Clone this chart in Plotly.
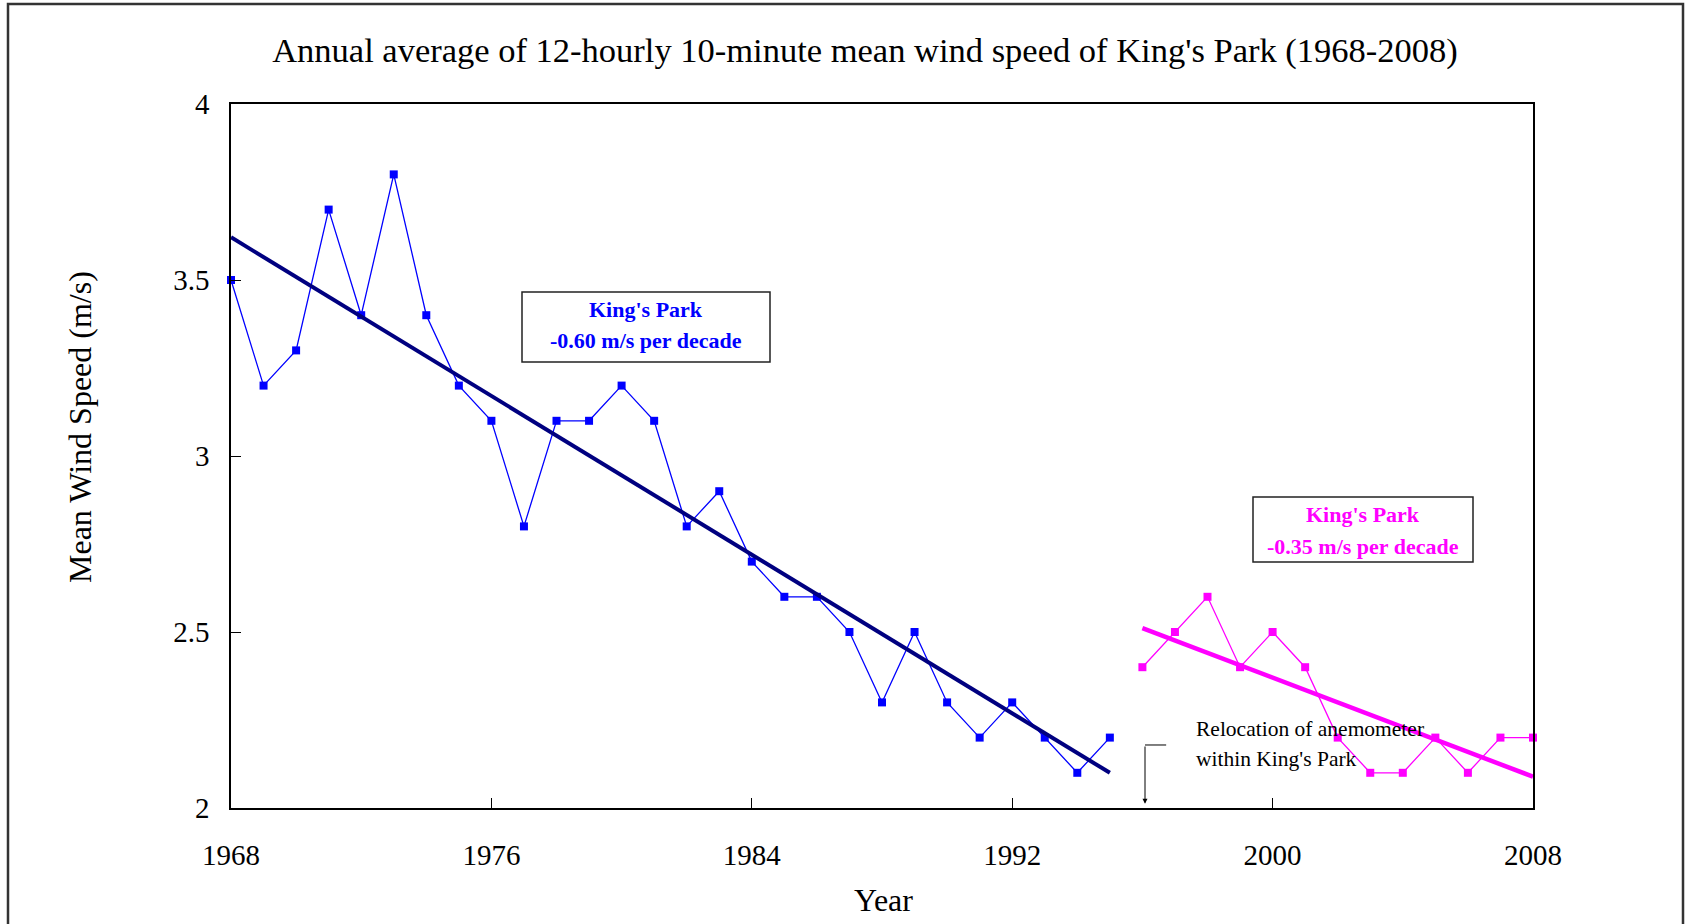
import numpy as np
import plotly.graph_objects as go

# ---- data ----
years_before = list(range(1968, 1996))
speed_before = [3.5, 3.2, 3.3, 3.7, 3.4, 3.8, 3.4, 3.2, 3.1, 2.8, 3.1, 3.1, 3.2, 3.1,
                2.8, 2.9, 2.7, 2.6, 2.6, 2.5, 2.3, 2.5, 2.3, 2.2, 2.3, 2.2, 2.1, 2.2]
years_after = list(range(1996, 2009))
speed_after = [2.4, 2.5, 2.6, 2.4, 2.5, 2.4, 2.2, 2.1, 2.1, 2.2, 2.1, 2.2, 2.2]
x_ticks = [1968, 1976, 1984, 1992, 2000, 2008]
y_ticks = [2, 2.5, 3, 3.5, 4]
x_tick_labels = ["1968", "1976", "1984", "1992", "2000", "2008"]
y_tick_labels = ["2", "2.5", "3", "3.5", "4"]

# trend lines (least squares)
pb = np.polyfit(years_before, speed_before, 1)
pa = np.polyfit(years_after, speed_after, 1)
trend_before = list(np.polyval(pb, years_before))
trend_after = list(np.polyval(pa, years_after))

# ---- layout geometry (page pixels) ----
W, H = 1685, 924
L, R, T, B = 231, 1533, 104, 808
def px(x):
    return (x - L) / (R - L)
def py(y):
    return (B - y) / (B - T)

FONT = "Liberation Serif"
BLUE = "#0000FF"
NAVY = "#000080"
MAG = "#FF00FF"

fig = go.Figure()
fig.add_trace(go.Scatter(x=years_before, y=speed_before, mode="lines+markers",
                         line=dict(color=BLUE, width=1.3),
                         marker=dict(symbol="square", size=8, color=BLUE),
                         showlegend=False, cliponaxis=False))
fig.add_trace(go.Scatter(x=years_before, y=trend_before, mode="lines",
                         line=dict(color=NAVY, width=4), showlegend=False))
fig.add_trace(go.Scatter(x=years_after, y=speed_after, mode="lines+markers",
                         line=dict(color=MAG, width=1.3),
                         marker=dict(symbol="square", size=8, color=MAG),
                         showlegend=False, cliponaxis=False))
fig.add_trace(go.Scatter(x=years_after, y=trend_after, mode="lines",
                         line=dict(color=MAG, width=4.5), showlegend=False))

shapes = [
    # outer frame
    dict(type="rect", xref="paper", yref="paper",
         x0=px(8), x1=px(1683), y0=py(4), y1=py(940),
         line=dict(color="#333333", width=2.5), layer="below"),
    # annotation boxes
    dict(type="rect", xref="paper", yref="paper",
         x0=px(522), x1=px(770), y0=py(292), y1=py(362),
         line=dict(color="#222222", width=1.5), fillcolor="white", layer="above"),
    dict(type="rect", xref="paper", yref="paper",
         x0=px(1253), x1=px(1473), y0=py(497), y1=py(562),
         line=dict(color="#222222", width=1.5), fillcolor="white", layer="above"),
    # relocation elbow (horizontal part)
    dict(type="line", xref="x", yref="y",
         x0=1996.08, x1=1996.73, y0=2.179, y1=2.179,
         line=dict(color="black", width=1)),
]

def note(x, y, text, size, color, xanchor="center", angle=0):
    return dict(xref="paper", yref="paper", x=px(x), y=py(y), text=text,
                xanchor=xanchor, yanchor="middle", showarrow=False, textangle=angle,
                font=dict(family=FONT, size=size, color=color))

annotations = [
    note(646, 309, "<b>King's Park</b>", 22, BLUE),
    note(646, 340, "<b>-0.60 m/s per decade</b>", 22, BLUE),
    note(1363, 514, "<b>King's Park</b>", 22, MAG),
    note(1363, 546, "<b>-0.35 m/s per decade</b>", 22, MAG),
    note(1194, 729, "Relocation of anemometer", 21.5, "black", xanchor="left"),
    note(1194, 759, "within King's Park", 21.5, "black", xanchor="left"),
    note(883, 900, "Year", 32, "black"),
    note(80, 427, "Mean Wind Speed (m/s)", 32, "black", angle=-90),
    # arrow (vertical part of the elbow)
    dict(xref="x", yref="y", x=1996.08, y=2.012, ax=1996.08, ay=2.179,
         axref="x", ayref="y", text="", showarrow=True,
         arrowhead=2, arrowsize=1, arrowwidth=1, arrowcolor="black"),
]

fig.update_layout(
    width=W, height=H,
    margin=dict(l=L, r=W - R, t=T, b=H - B),
    paper_bgcolor="white", plot_bgcolor="white",
    font=dict(family=FONT, color="black"),
    title=dict(text="Annual average of 12-hourly 10-minute mean wind speed of King's Park (1968-2008)",
               xref="container", x=865 / W, xanchor="center",
               yref="container", y=1 - 50 / H, yanchor="middle",
               font=dict(family=FONT, size=34.5, color="black")),
    shapes=shapes,
    annotations=annotations,
)
fig.update_xaxes(range=[1968, 2008], tickvals=x_ticks, ticktext=x_tick_labels,
                 showline=True, linecolor="black", linewidth=1.5, mirror=True,
                 ticks="inside", ticklen=10, tickcolor="black", showgrid=False, zeroline=False,
                 tickfont=dict(family=FONT, size=29), ticklabelstandoff=20)
fig.update_yaxes(range=[2, 4], tickvals=y_ticks, ticktext=y_tick_labels,
                 showline=True, linecolor="black", linewidth=1.5, mirror=True,
                 ticks="inside", ticklen=10, tickcolor="black", showgrid=False, zeroline=False,
                 tickfont=dict(family=FONT, size=29), ticklabelstandoff=14)

fig.write_html("out.html", config={"displayModeBar": False},
               post_script="document.body.style.margin='0';")
